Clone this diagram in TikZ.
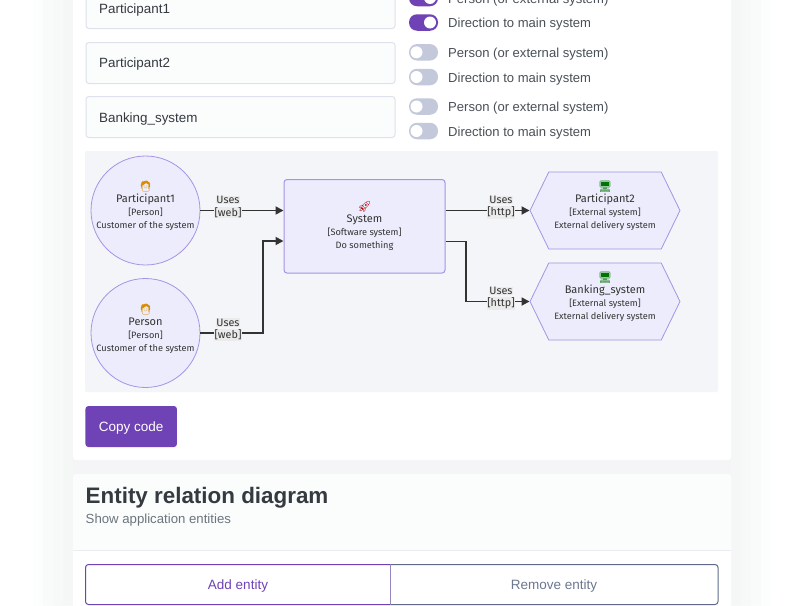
\documentclass[tikz,border=0pt]{standalone}
\usepackage{fontspec}
\usetikzlibrary{shapes.symbols,arrows.meta}
\setmainfont{Liberation Sans}
\newfontfamily\chartfont{Fira Sans}
\newfontfamily\emojifont{Noto Emoji}
\definecolor{brandpurple}{HTML}{6F42B5}
\definecolor{toggleoff}{HTML}{C3C9DB}
\definecolor{inkdark}{HTML}{343A40}
\definecolor{inkgrey}{HTML}{495057}
\definecolor{inkmuted}{HTML}{6C757D}
\definecolor{fieldline}{HTML}{DFE1EC}
\definecolor{fieldfill}{HTML}{FBFCFC}
\definecolor{panelfill}{HTML}{F4F5F8}
\definecolor{gapfill}{HTML}{F5F5F8}
\definecolor{glowtint}{HTML}{5060A0}
\definecolor{chartfill}{HTML}{ECECFC}
\definecolor{chartline}{HTML}{A594E6}
\definecolor{chartedge}{HTML}{333333}
\definecolor{slateline}{HTML}{5F6A88}
\definecolor{slatetext}{HTML}{6C7790}
\tikzset{
  glow/.style={fill=glowtint,opacity=0.01,rounded corners=20},
  field/.style={draw=fieldline,fill=fieldfill,line width=1,rounded corners=3,anchor=north west,minimum width=309,minimum height=41,inner sep=0},
  fieldtext/.style={anchor=west,inner sep=0,text=inkdark,font=\fontsize{13.4}{16}\selectfont},
  toggletrack/.style={rounded corners=8,minimum width=29,minimum height=16.5,inner sep=0},
  toggleknob/.style={circle,fill=white,minimum size=12,inner sep=0},
  toggletext/.style={anchor=west,inner sep=0,text=inkgrey,font=\fontsize{13.05}{16}\selectfont},
  person/.style={circle,draw=chartline,fill=chartfill,line width=0.8,minimum size=109,inner sep=0},
  softsys/.style={draw=chartline,fill=chartfill,line width=1,rounded corners=3,minimum width=161,minimum height=93.5,inner sep=0},
  extsys/.style={shape=signal,signal to=west and east,signal pointer angle=128,draw=chartline,fill=chartfill,line width=0.8,minimum width=150,minimum height=77,inner sep=0},
  chartlabel/.style={align=center,inner sep=0,text=chartedge,font=\chartfont\fontsize{9.2}{12.8}\selectfont},
  edgetext/.style={inner sep=0.5,fill=black!8,text=chartedge,font=\chartfont\fontsize{10.8}{12}\selectfont},
  edge/.style={draw=chartedge,line width=1.7,-{Triangle[length=8,width=8]}}
}
\newcommand{\icon}[2]{{\emojifont\fontsize{11}{12}\selectfont\textcolor{#1}{#2}}}
\newcommand{\boxtitle}[1]{{\fontsize{11}{13}\selectfont #1}}
\begin{document}
\begin{tikzpicture}[x=1pt,y=-1pt]
  \path [use as bounding box,clip] (0,0) rectangle (800,605);
  \fill [white] (0,0) rectangle (800,605);
  % shadow round the cards
  \fill [glow] (33,-40) rectangle (771,645);
  \fill [glow] (43,-40) rectangle (761,645);
  \fill [glow] (53,-40) rectangle (751,645);
  \fill [glow] (63,-40) rectangle (741,645);
  \fill [gapfill] (73,455) rectangle (731,480);
  % cards
  \fill [white,rounded corners=3] (73,-20) rectangle (731,460);
  \fill [white,rounded corners=3] (73,474) rectangle (731,640);
  \fill [fieldfill,rounded corners=3] (73,474) rectangle (731,551) ;
  \fill [white] (73,551) rectangle (731,560);
  \draw [fieldline!60!white] (73,550.5) -- (731,550.5);

  % fields
  \node [field] (f1) at (85.5,-13) {};
  \node [field] (f2) at (85.5,42) {};
  \node [field] (f3) at (85.5,96) {};
  \node [fieldtext] (f1text) at (99,10) {Participant1};
  \node [fieldtext] (f2text) at (99,64.5) {Participant2};
  \node [fieldtext] (f3text) at (99,119) {Banking\_system};

  % toggles
  \node [toggletrack,fill=brandpurple] (t1) at (423.5,-2) {};
  \node [toggletrack,fill=brandpurple] (t2) at (423.5,22.5) {};
  \node [toggletrack,fill=toggleoff] (t3) at (423.5,52.3) {};
  \node [toggletrack,fill=toggleoff] (t4) at (423.5,77) {};
  \node [toggletrack,fill=toggleoff] (t5) at (423.5,106.5) {};
  \node [toggletrack,fill=toggleoff] (t6) at (423.5,131) {};
  \node [toggleknob] (k1) at (430,-2) {};
  \node [toggleknob] (k2) at (430,22.5) {};
  \node [toggleknob] (k3) at (416.5,52.3) {};
  \node [toggleknob] (k4) at (416.5,77) {};
  \node [toggleknob] (k5) at (416.5,106.5) {};
  \node [toggleknob] (k6) at (416.5,131) {};
  \node [toggletext] (t1text) at (448,0) {Person (or external system)};
  \node [toggletext] (t2text) at (448,24.3) {Direction to main system};
  \node [toggletext] (t3text) at (448,54) {Person (or external system)};
  \node [toggletext] (t4text) at (448,78.8) {Direction to main system};
  \node [toggletext] (t5text) at (448,108.3) {Person (or external system)};
  \node [toggletext] (t6text) at (448,132.8) {Direction to main system};

  % chart
  \fill [panelfill,rounded corners=2] (85,151) rectangle (718,392);
  \node [person] (part1) at (145.5,210.5) {};
  \node [person] (pers) at (145.5,333) {};
  \node [softsys] (sys) at (364.5,226.3) {};
  \node [extsys] (part2) at (605,210.5) {};
  \node [extsys] (bank) at (605,301.5) {};

  \node [chartlabel] (part1text) at (145.5,205.5) {\icon{orange!70!yellow!85!black}{🧑}\\[-0.5pt]\boxtitle{Participant1}\\{}[Person]\\Customer of the system};
  \node [chartlabel] (perstext) at (145.5,328.5) {\icon{orange!70!yellow!85!black}{🧑}\\[-0.5pt]\boxtitle{Person}\\{}[Person]\\Customer of the system};
  \node [chartlabel] (systext) at (364.5,226) {\icon{red!70!black}{🚀}\\[-0.5pt]\boxtitle{System}\\{}[Software system]\\Do something};
  \node [chartlabel] (part2text) at (605,205.5) {\icon{green!45!black}{🖥}\\[-0.5pt]\boxtitle{Participant2}\\{}[External system]\\External delivery system};
  \node [chartlabel] (banktext) at (605,296.5) {\icon{green!45!black}{🖥}\\[-0.5pt]\boxtitle{Banking\_system}\\{}[External system]\\External delivery system};

  \coordinate (sysinlow) at (sys.west |- 0,241);
  \coordinate (sysoutlow) at (sys.east |- 0,241.5);
  \draw [edge] (part1.east) -- (part1.east -| sys.west);
  \draw [edge] (pers.east) -- (263,333) -- (263,241) -- (sysinlow);
  \draw [edge] (part2.west -| sys.east) -- (part2.west);
  \draw [edge] (sysoutlow) -- (466,241.5) -- (466,301.5) -- (bank.west);

  \node [edgetext] (use1) at (228,200) {Uses};
  \node [edgetext] (web1) at (228,212.5) {[web]};
  \node [edgetext] (use2) at (228,322.5) {Uses};
  \node [edgetext] (web2) at (228,335) {[web]};
  \node [edgetext] (use3) at (501,200) {Uses};
  \node [edgetext] (http3) at (501,212.5) {[http]};
  \node [edgetext] (use4) at (501,291) {Uses};
  \node [edgetext] (http4) at (501,303.5) {[http]};

  % button and second card
  \node [fill=brandpurple,rounded corners=3,minimum width=91.5,minimum height=41,inner sep=0] (copy) at (131.2,426.5) {};
  \node [inner sep=0,text=white,font=\fontsize{13.5}{16}\selectfont] (copytext) at (131.2,428) {Copy code};
  \node [anchor=west,inner sep=0,text=inkdark,font=\bfseries\fontsize{22.4}{26}\selectfont] (title) at (85.5,498) {Entity relation diagram};
  \node [anchor=west,inner sep=0,text=inkmuted,font=\fontsize{13.2}{16}\selectfont] (subtitle) at (85.5,520.5) {Show application entities};
  \draw [draw=slateline,line width=1,rounded corners=3] (390.5,564.5) -- (718,564.5) -- (718,604.5) -- (390.5,604.5);
  \draw [draw=brandpurple,line width=1,rounded corners=3] (390.5,564.5) -- (85.5,564.5) -- (85.5,604.5) -- (390.5,604.5);
  \draw [draw=brandpurple!60!slateline!70!white,line width=1] (390.5,564.5) -- (390.5,604.5);
  \node [text=brandpurple,inner sep=0,font=\fontsize{13.5}{16}\selectfont] (addent) at (238,586.5) {Add entity};
  \node [text=slatetext,inner sep=0,font=\fontsize{13.5}{16}\selectfont] (rement) at (554,586.5) {Remove entity};
\end{tikzpicture}
\end{document}
